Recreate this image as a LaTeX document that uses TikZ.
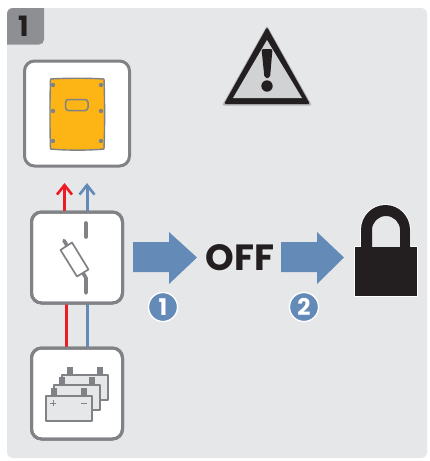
\documentclass[tikz,border=0pt]{standalone}
\usepackage{fontspec}
\setmainfont{Poppins}
\usetikzlibrary{arrows.meta}
\definecolor{panel}{HTML}{E6E7E9}
\definecolor{tabgray}{HTML}{8E8F92}
\definecolor{frame}{HTML}{808285}
\definecolor{ink}{HTML}{231F20}
\definecolor{sigblue}{HTML}{648BB8}
\definecolor{sigred}{HTML}{ED1C24}
\definecolor{amber}{HTML}{FDB515}
\definecolor{warngray}{HTML}{D1D2D4}
\tikzset{
  panelbox/.style={draw=frame,line width=3pt,fill=white,rounded corners=10pt,minimum width=#1,minimum height=#1,inner sep=0pt,outer sep=0pt},
  wire/.style={line width=3pt},
  wirearrow/.style={wire,-{Straight Barb[length=9.5pt,width=15pt,line width=2.6pt]}},
  bluearrow/.style={fill=sigblue,draw=none},
  stepdisc/.style={circle,fill=sigblue,draw=white,line width=1.3pt,minimum size=29pt,inner sep=0pt,text=white,font=\bfseries\fontsize{23}{23}\selectfont},
  batt/.style={draw=frame,line width=2pt,fill=panel,line join=round},
  sw/.style={draw=frame,line width=3.6pt,line cap=round},
}
\begin{document}
\begin{tikzpicture}[x=1pt,y=-1pt]
\useasboundingbox (0,0) rectangle (430,461);
\fill[white] (0,0) rectangle (430,461);
% panel and tab
\fill[panel,rounded corners=6pt] (7,8) rectangle (427,458);
\fill[tabgray] (7,44.5) -- (39,44.5) .. controls (42,44.5) and (44,42.5) .. (44,39.5) -- (44,8) -- (13,8) .. controls (9.5,8) and (7,10.5) .. (7,14) -- cycle;
\node[inner sep=0pt,text=ink,font=\bfseries\fontsize{28}{28}\selectfont] (tabnum) at (23.5,26.5) {1};
% boxes
\node[panelbox=105pt] (inverter) at (77,113.5) {};
\node[panelbox=91pt] (fuse) at (77,257.5) {};
\node[panelbox=91pt] (battery) at (77,393.5) {};
% inverter
\fill[amber,draw=frame,line width=1.4pt,line join=round] (50.5,79) .. controls (65,78) and (90,78) .. (104,79) .. controls (104.8,100) and (104.8,130) .. (104,149) .. controls (90,150.5) and (65,150.5) .. (50.5,149) .. controls (49.8,130) and (49.8,100) .. (50.5,79) -- cycle;
\draw[frame,line width=1.5pt,rounded corners=3pt] (65.5,99.5) rectangle (88,110.5);
\foreach \p in {(53,85),(101,85),(53,111),(101,111),(53,141),(101,141)}
  \fill[frame] \p circle (2.2pt);
% wires
\coordinate (redtop) at (64.5,183);
\coordinate (bluetop) at (87,183);
\coordinate (redbot) at (66,348);
\coordinate (bluebot) at (87,348);
\coordinate (redmid) at (64.5,212);
\coordinate (bluemid) at (87,212);
\coordinate (redlow) at (66,303);
\coordinate (bluelow) at (87,303);
\draw[wire,sigred] (redbot) -- (redlow);
\draw[wire,sigblue] (bluebot) -- (bluelow);
\draw[wirearrow,sigred] (redmid) -- (redtop);
\draw[wirearrow,sigblue] (bluemid) -- (bluetop);
\node[panelbox=91pt,fill=none] at (fuse) {};
\node[panelbox=91pt,fill=none] at (battery) {};
% fuse switch
\draw[sw] (86,223) -- (86,237);
\draw[sw,line join=round] (64,240.5) -- (86,278) -- (86,293);
\fill[white,draw=frame,line width=1.7pt,line join=round] (60.5,250) -- (72,242.5) -- (88.5,269.5) -- (77,276.5) -- cycle;
% batteries
\foreach \dx/\dy in {16/-21,8/-11,0/0}{
  \begin{scope}[shift={(\dx,\dy)}]
    \fill[frame] (51,388) rectangle (57,397);
    \fill[frame] (81,388) rectangle (87,397);
    \draw[batt] (46,396) rectangle (92,421);
  \end{scope}}
\draw[frame,line width=1pt] (50,403) -- (56,403) (53,400) -- (53,406);
\draw[frame,line width=1.2pt] (81,403.5) -- (87,403.5);
% step arrows
\fill[bluearrow] (133,242) -- (169,242) -- (169,232) -- (197,257.5) -- (169,284) -- (169,272) -- (133,272) -- cycle;
\node[inner sep=0pt,font=\bfseries\fontsize{36.5}{36.5}\selectfont,text=ink] (off) at (240,258) {OFF};
\fill[bluearrow] (281,242) -- (317,242) -- (317,232) -- (344,257.5) -- (317,284) -- (317,272) -- (281,272) -- cycle;
\node[stepdisc] (one) at (163,307) {1};
\node[stepdisc] (two) at (304,307) {2};
% lock
\draw[white,line width=1.6pt,line join=round] (355,247) -- (361,247) -- (361,230) arc[start angle=180,end angle=0,x radius=24.5,y radius=-25] -- (410,247) -- (417,247) -- (417,296) -- (355,296) -- cycle;
\fill[ink] (355,247) rectangle (417,296);
\fill[ink,even odd rule] (361,248) -- (361,230) arc[start angle=180,end angle=0,x radius=24.5,y radius=-25] -- (410,248) -- cycle
  (372,247) -- (372,230) arc[start angle=180,end angle=0,x radius=14,y radius=-14] -- (400,247) -- cycle;
% warning
\fill[ink!25!panel,rounded corners=2pt] (267,25.5) -- (312,105.5) -- (222,105.5) -- cycle;
\fill[ink,rounded corners=1.5pt] (267,27) -- (310,104) -- (224,104) -- cycle;
\fill[warngray] (267,40) -- (302,98) -- (233,98) -- cycle;
\fill[ink,rounded corners=2pt] (261.5,49) -- (272.5,49) -- (270,78) -- (264.5,78) -- cycle;
\fill[ink] (267,86) circle (5.7pt);
\end{tikzpicture}
\end{document}
